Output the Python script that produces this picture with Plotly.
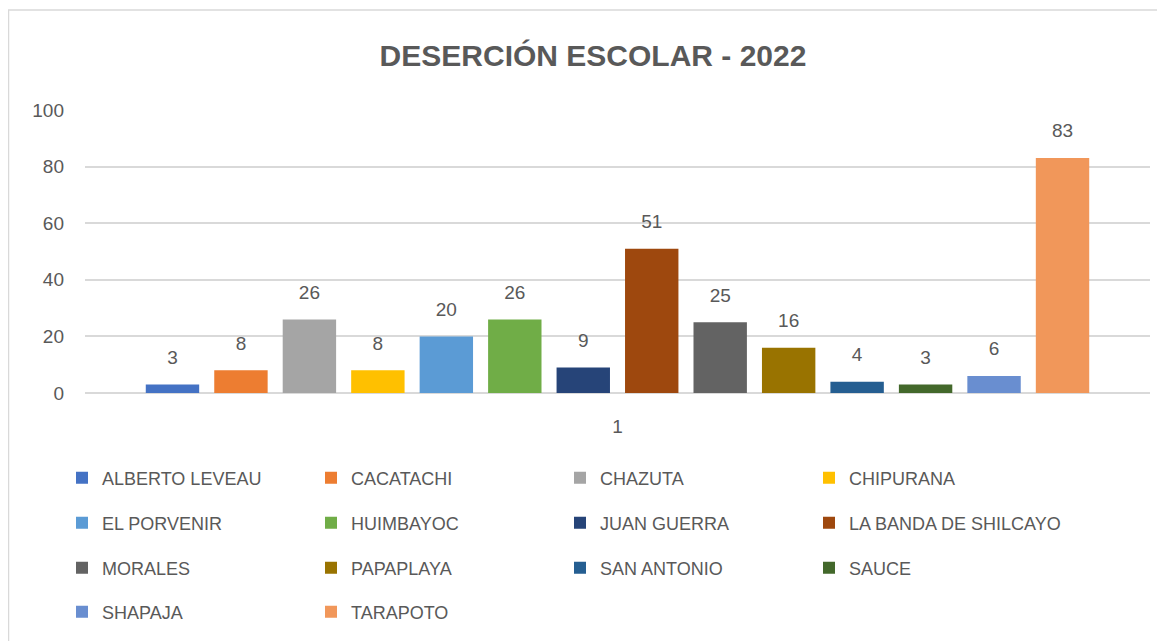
import plotly.graph_objects as go

categories = ["1"]
districts = ["ALBERTO LEVEAU", "CACATACHI", "CHAZUTA", "CHIPURANA",
             "EL PORVENIR", "HUIMBAYOC", "JUAN GUERRA", "LA BANDA DE SHILCAYO",
             "MORALES", "PAPAPLAYA", "SAN ANTONIO", "SAUCE",
             "SHAPAJA", "TARAPOTO"]
values = [3, 8, 26, 8, 20, 26, 9, 51, 25, 16, 4, 3, 6, 83]
colors = ["#4472C4", "#ED7D31", "#A5A5A5", "#FFC000",
          "#5B9BD5", "#70AD47", "#264478", "#9E480E",
          "#636363", "#997300", "#255E91", "#43682B",
          "#698ED0", "#F1975A"]
y_ticks = [0, 20, 40, 60, 80, 100]

W, H = 1165, 641
L, R, T, B = 77, 23, 102, 256
PW, PH = W - L - R, H - T - B
FONT = "Liberation Sans, Arial, sans-serif"
GREY = "#595959"
COLS = 4
COL_W = 249          # pixel pitch of legend columns
LEG_X0 = 54          # left of first legend column (figure px)
row_y = [470, 515, 560, 604]  # figure-pixel rows of the legend


def legend_of(i):
    row, col = divmod(i, COLS)
    # the long last entry of row 2 gets its own auto-width legend so it is not clipped
    if col == COLS - 1 and len(districts[i]) > 16:
        return "legend5"
    return "legend" if row == 0 else f"legend{row + 1}"


fig = go.Figure()
for i, (name, v, c) in enumerate(zip(districts, values, colors)):
    fig.add_trace(go.Bar(
        x=categories, y=[v], name=name, orientation="v",
        marker=dict(color=c, line=dict(width=0)),
        legend=legend_of(i), hoverinfo="x+y+name",
    ))
# data labels, grouped exactly like the bars
for i, (name, v) in enumerate(zip(districts, values)):
    fig.add_trace(go.Scatter(
        x=categories, y=[v], name=name, orientation="v",
        mode="markers+text", text=[str(v)], textposition="top center",
        marker=dict(size=24, opacity=0, color="white"),
        textfont=dict(family=FONT, size=19, color=GREY),
        cliponaxis=False, showlegend=False, hoverinfo="skip",
    ))

leg_common = dict(
    orientation="h", xref="container", yref="container",
    x=LEG_X0 / W, xanchor="left", yanchor="middle",
    entrywidth=COL_W - 45, entrywidthmode="pixels",
    font=dict(family=FONT, size=18, color=GREY),
    bgcolor="rgba(0,0,0,0)", itemclick=False, itemdoubleclick=False,
    traceorder="normal",
)
legends = {}
for k in range(4):
    ln = "legend" if k == 0 else f"legend{k + 1}"
    legends[ln] = dict(leg_common, y=1 - row_y[k] / H)
legends["legend5"] = dict(leg_common, entrywidth=0,
                          x=(LEG_X0 + 3 * COL_W) / W, y=1 - row_y[1] / H)

fig.update_layout(
    width=W, height=H,
    margin=dict(l=L, r=R, t=T, b=B, autoexpand=False),
    paper_bgcolor="white", plot_bgcolor="white",
    barmode="group", bargap=0.1, bargroupgap=0.22,
    scattermode="group", scattergap=0.1,
    title=dict(text="<b>DESERCIÓN ESCOLAR - 2022</b>",
               x=585 / W, xanchor="center", y=1 - 47 / H, yanchor="middle",
               font=dict(family=FONT, size=30, color=GREY)),
    font=dict(family=FONT, color=GREY),
    xaxis=dict(showgrid=False, showline=False, ticks="",
               ticklabelstandoff=20,
               tickfont=dict(family=FONT, size=19, color=GREY)),
    yaxis=dict(range=[0, 100], tickvals=y_ticks, showgrid=True,
               gridcolor="#D9D9D9", gridwidth=1.5, zeroline=True,
               zerolinecolor="#D9D9D9", zerolinewidth=1.5, showline=False,
               ticks="", ticklabelstandoff=20,
               tickfont=dict(family=FONT, size=19, color=GREY)),
    showlegend=True,
    **legends,
)

# chart border (Excel chart area outline)
fig.add_shape(type="rect", xref="paper", yref="paper",
              x0=(0.5 - L) / PW, x1=(W + 5 - L) / PW,
              y0=-(H + 5 - T - PH) / PH, y1=1 + (T - 2) / PH,
              line=dict(color="#D9D9D9", width=1.5), fillcolor="rgba(0,0,0,0)",
              layer="below")

fig.write_html("out.html")
